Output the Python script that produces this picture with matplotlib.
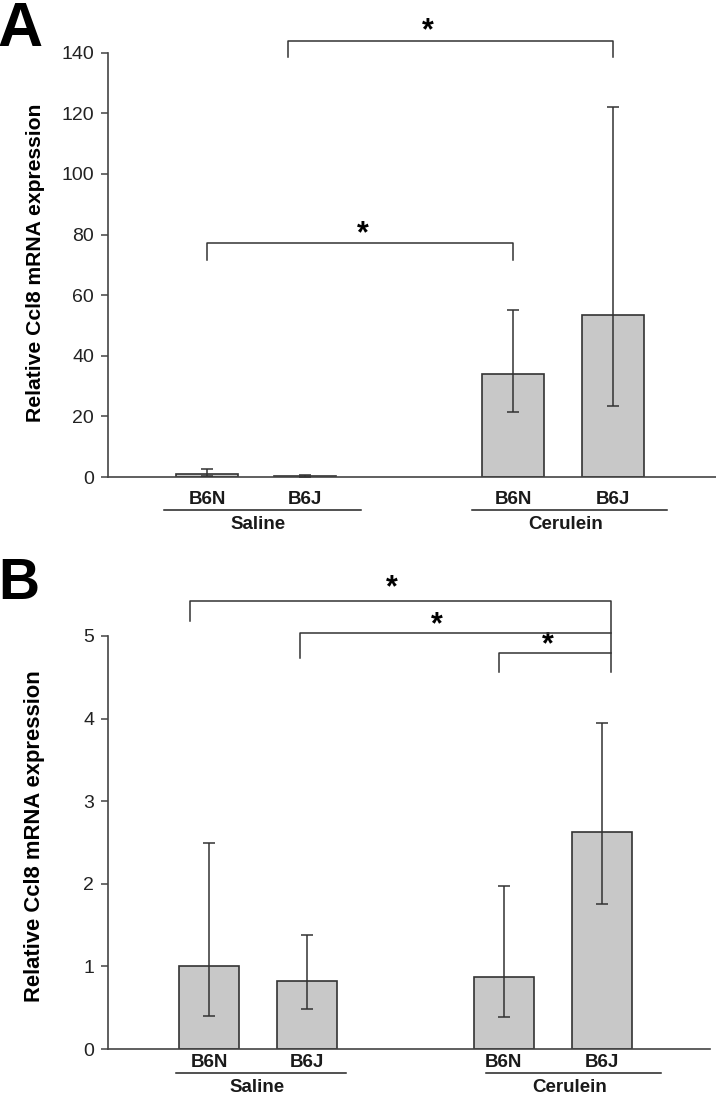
import matplotlib
matplotlib.use("Agg")
import matplotlib.pyplot as plt
import matplotlib.transforms as mtransforms
import numpy as np

plt.rcParams['font.family'] = ['Liberation Sans', 'DejaVu Sans']

strains = ["B6N", "B6J", "B6N", "B6J"]
groups = ["Saline", "Cerulein"]

# Panel A
a_pos = [0.0, 0.99, 3.09, 4.1]
a_mean = [1.0, 0.3, 34.0, 53.5]
a_low = [0.3, 0.1, 21.5, 23.5]
a_high = [2.5, 0.8, 55.0, 122.0]
a_ticks = [0, 20, 40, 60, 80, 100, 120, 140]

# Panel B
b_pos = [0.0, 1.0, 3.0, 4.0]
b_mean = [1.0, 0.82, 0.87, 2.63]
b_low = [0.4, 0.48, 0.39, 1.75]
b_high = [2.5, 1.38, 1.97, 3.95]
b_ticks = [0, 1, 2, 3, 4, 5]

W, H = 716, 1095
fig = plt.figure(figsize=(W / 100, H / 100), dpi=100)

bar_color = "#c8c8c8"
edge = "#333333"


def px_axes(left, right, top, bottom):
    return fig.add_axes([left / W, 1 - bottom / H, (right - left) / W, (bottom - top) / H])


def fy(ypx):
    return 1 - ypx / H


def draw_panel(ax, pos, mean, low, high, ticks, ytop, width, lab_fs):
    mean = np.array(mean)
    yerr = np.vstack([mean - np.array(low), np.array(high) - mean])
    ax.bar(pos, mean, width=width, color=bar_color, edgecolor=edge, linewidth=1.2, zorder=2)
    ax.errorbar(pos, mean, yerr=yerr, fmt='none', ecolor=edge, elinewidth=1.1,
                capsize=4.4, capthick=1.1, zorder=3)
    ax.set_ylim(0, ytop)
    ax.set_yticks(ticks)
    ax.set_yticklabels([str(t) for t in ticks], fontsize=14, color="#222222")
    ax.spines['left'].set_bounds(0, ticks[-1])
    ax.spines['top'].set_visible(False)
    ax.spines['right'].set_visible(False)
    for s in ['left', 'bottom']:
        ax.spines[s].set_color("#444444")
        ax.spines[s].set_linewidth(1.2)
    ax.tick_params(axis='y', direction='out', length=5, width=1.1, color="#444444", pad=5)
    ax.set_xticks([])
    ax.set_ylabel("Relative Ccl8 mRNA expression", fontsize=lab_fs, fontweight='bold')


def bracket(ax, x1, x2, y, yl, yr, xs, ys):
    ax.plot([x1, x1, x2, x2], [yl, y, y, yr], color="#333333", lw=1.1, clip_on=False, zorder=4)
    ax.text(xs, ys, "*", ha='center', va='center', fontsize=22, fontweight='bold', clip_on=False)


def group_labels(ax, pos, spans, y_strain, y_line, y_group):
    t = mtransforms.blended_transform_factory(ax.transData, fig.transFigure)
    for p, s in zip(pos, strains):
        ax.text(p, fy(y_strain), s, transform=t, ha='center', va='baseline',
                fontsize=13.5, fontweight='bold', color="#1a1a1a")
    for (x1, x2), g in zip(spans, groups):
        ax.plot([x1, x2], [fy(y_line), fy(y_line)], transform=t, color="#222222", lw=1.1, clip_on=False)
        ax.text((x1 + x2) / 2 - 0.04, fy(y_group), g, transform=t, ha='center', va='baseline',
                fontsize=13.5, fontweight='bold', color="#1a1a1a")


# ---------- Panel A ----------
axA = px_axes(108, 716, 477 - 150 * 3.03, 477)
axA.set_xlim(-1.0, 5.14)
draw_panel(axA, a_pos, a_mean, a_low, a_high, a_ticks, 150, 0.62, 15.2)
axA.yaxis.set_label_coords(45 / W, fy(263), transform=fig.transFigure)
bracket(axA, a_pos[0], a_pos[2], 77.2, 71.6, 71.6, 1.57, 80.0)
bracket(axA, 0.82, a_pos[3], 143.9, 138.6, 138.6, 2.23, 147.0)
group_labels(axA, a_pos, [(-0.43, 1.55), (2.68, 4.65)], 504, 510, 529)

# ---------- Panel B ----------
ppu = 82.6
axB = px_axes(108, 710, 1049 - 5.8 * ppu, 1049)
axB.set_xlim(-1.03, 5.1)
draw_panel(axB, b_pos, b_mean, b_low, b_high, b_ticks, 5.8, 0.61, 15.8)
axB.yaxis.set_label_coords(45 / W, fy(836), transform=fig.transFigure)
bracket(axB, -0.2, 4.09, 5.42, 5.18, 4.56, 1.86, 5.58)
bracket(axB, 0.93, 4.09, 5.04, 4.73, 5.04, 2.32, 5.13)
bracket(axB, 2.95, 4.09, 4.79, 4.56, 4.79, 3.45, 4.89)
group_labels(axB, b_pos, [(-0.34, 1.39), (2.82, 4.6)], 1067, 1073, 1092)

# Panel letters
fig.text(-0.003, fy(46), "A", fontsize=45, fontweight='bold', ha='left', va='baseline')
fig.text(-0.003, fy(599), "B", fontsize=41, fontweight='bold', ha='left', va='baseline')

fig.savefig("out.png", dpi=100)
